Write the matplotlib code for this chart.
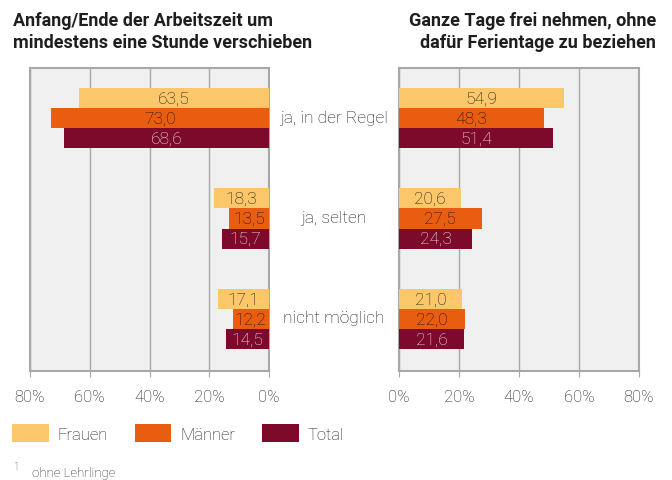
import matplotlib.pyplot as plt
from matplotlib.patches import Patch

categories = ["ja, in der Regel", "ja, selten", "nicht möglich"]
series = ["Frauen", "Männer", "Total"]
left_vals = {
    "Frauen": [63.5, 18.3, 17.1],
    "Männer": [73.0, 13.5, 12.2],
    "Total": [68.6, 15.7, 14.5],
}
right_vals = {
    "Frauen": [54.9, 20.6, 21.0],
    "Männer": [48.3, 27.5, 22.0],
    "Total": [51.4, 24.3, 21.6],
}
ticks = [0, 20, 40, 60, 80]
left_title = "Anfang/Ende der Arbeitszeit um\nmindestens eine Stunde verschieben"
right_title = "Ganze Tage frei nehmen, ohne\ndafür Ferientage zu beziehen"
footnote = "ohne Lehrlinge"

colors = {"Frauen": "#fcc66a", "Männer": "#e85d10", "Total": "#7d0a2b"}
txt_colors = {"Frauen": "#1e1a16", "Männer": "#1e1006", "Total": "#f6e4ea"}
plt.rcParams['font.family'] = ['Roboto', 'DejaVu Sans']

W, H = 672, 481
fig = plt.figure(figsize=(W / 100, H / 100), dpi=100)


def box(x0, x1, y0, y1):
    return [x0 / W, 1 - y1 / H, (x1 - x0) / W, (y1 - y0) / H]


axl = fig.add_axes(box(30, 269, 69, 372))
axr = fig.add_axes(box(399, 639, 69, 372))

h = 0.2
for ax, vals, flip in [(axl, left_vals, True), (axr, right_vals, False)]:
    ax.set_facecolor("#eff0ef")
    for k, s in enumerate(series):
        for i, v in enumerate(vals[s]):
            y = i + (k - 1) * h
            ax.barh(y, v, height=h, color=colors[s], zorder=3)
            ax.text(v / 2, y, f"{v:.1f}".replace(".", ","), ha="center", va="center",
                    color=txt_colors[s], fontsize=12.5, fontweight="light", zorder=4)
    ax.set_xlim(80, 0) if flip else ax.set_xlim(0, 80)
    ax.set_ylim(2.52, -0.5)
    ax.set_xticks(ticks)
    ax.set_xticklabels([f"{t}%" for t in ticks], fontsize=12, fontweight="light", color="#1a1a1a")
    ax.set_yticks([])
    ax.grid(axis="x", color="#a8a8a8", linewidth=1, zorder=1)
    ax.tick_params(axis="x", length=4, color="#a8a8a8", pad=9)
    for sp in ax.spines.values():
        sp.set_color("#a8a8a8")
        sp.set_linewidth(1.5)

for i, c in enumerate(categories):
    y = 1 - (119 + 100 * i) / H
    fig.text(334 / W, y, c, ha="center", va="center", fontsize=12.5,
             fontweight="light", color="#1a1a1a")

fig.text(13 / W, 1 - 32 / H, left_title, ha="left", va="center", fontsize=13,
         fontweight="bold", color="#1e1e1e", linespacing=1.3)
fig.text(656 / W, 1 - 32 / H, right_title, ha="right", va="center", fontsize=13,
         fontweight="bold", color="#1e1e1e", linespacing=1.3)

handles = [Patch(facecolor=colors[s], edgecolor="none") for s in series]
fig.legend(handles, series, loc="center left", bbox_to_anchor=(12 / W, 1 - 434 / H),
           ncol=3, frameon=False, handlelength=2.2, handleheight=1.35,
           columnspacing=1.6, handletextpad=0.55, borderpad=0, borderaxespad=0,
           prop={"weight": "light", "size": 12})
for t in fig.legends[0].get_texts():
    t.set_color("#1a1a1a")

fig.text(13 / W, 1 - 467 / H, "1", fontsize=7, fontweight="light", color="#222222",
         va="center")
fig.text(32 / W, 1 - 474 / H, footnote, fontsize=9.5, fontweight="light",
         color="#222222", va="center")

fig.savefig("out.png", dpi=100)
